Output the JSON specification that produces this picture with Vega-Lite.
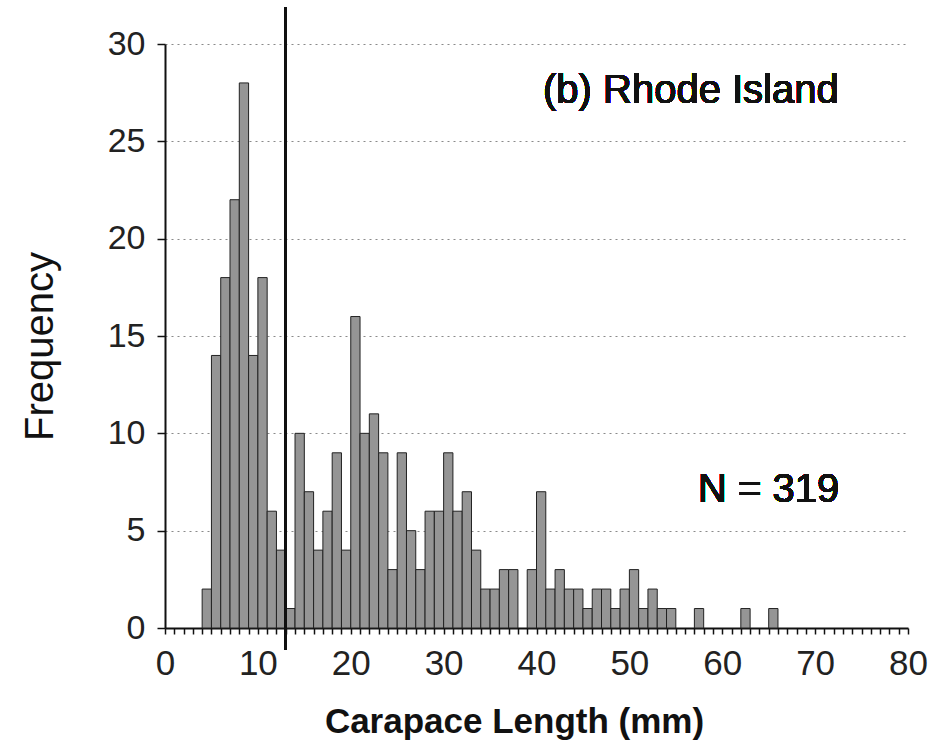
{
  "$schema": "https://vega.github.io/schema/vega-lite/v6.json",
  "width": 743,
  "height": 584,
  "autosize": {"type": "none"},
  "padding": {"left": 165, "top": 44, "right": 41, "bottom": 117},
  "background": "white",
  "config": {
    "view": {"stroke": null},
    "font": "Liberation Sans",
    "axis": {
      "domainColor": "#111",
      "domainWidth": 2,
      "tickColor": "#111",
      "tickWidth": 1.5,
      "labelColor": "#222",
      "titleColor": "#111",
      "labelFont": "Liberation Sans",
      "titleFont": "Liberation Sans",
      "labelFlush": false
    }
  },
  "data": {
    "values": [
      {"start": 4, "end": 5, "count": 2},
      {"start": 5, "end": 6, "count": 14},
      {"start": 6, "end": 7, "count": 18},
      {"start": 7, "end": 8, "count": 22},
      {"start": 8, "end": 9, "count": 28},
      {"start": 9, "end": 10, "count": 14},
      {"start": 10, "end": 11, "count": 18},
      {"start": 11, "end": 12, "count": 6},
      {"start": 12, "end": 13, "count": 4},
      {"start": 13, "end": 14, "count": 1},
      {"start": 14, "end": 15, "count": 10},
      {"start": 15, "end": 16, "count": 7},
      {"start": 16, "end": 17, "count": 4},
      {"start": 17, "end": 18, "count": 6},
      {"start": 18, "end": 19, "count": 9},
      {"start": 19, "end": 20, "count": 4},
      {"start": 20, "end": 21, "count": 16},
      {"start": 21, "end": 22, "count": 10},
      {"start": 22, "end": 23, "count": 11},
      {"start": 23, "end": 24, "count": 9},
      {"start": 24, "end": 25, "count": 3},
      {"start": 25, "end": 26, "count": 9},
      {"start": 26, "end": 27, "count": 5},
      {"start": 27, "end": 28, "count": 3},
      {"start": 28, "end": 29, "count": 6},
      {"start": 29, "end": 30, "count": 6},
      {"start": 30, "end": 31, "count": 9},
      {"start": 31, "end": 32, "count": 6},
      {"start": 32, "end": 33, "count": 7},
      {"start": 33, "end": 34, "count": 4},
      {"start": 34, "end": 35, "count": 2},
      {"start": 35, "end": 36, "count": 2},
      {"start": 36, "end": 37, "count": 3},
      {"start": 37, "end": 38, "count": 3},
      {"start": 39, "end": 40, "count": 3},
      {"start": 40, "end": 41, "count": 7},
      {"start": 41, "end": 42, "count": 2},
      {"start": 42, "end": 43, "count": 3},
      {"start": 43, "end": 44, "count": 2},
      {"start": 44, "end": 45, "count": 2},
      {"start": 45, "end": 46, "count": 1},
      {"start": 46, "end": 47, "count": 2},
      {"start": 47, "end": 48, "count": 2},
      {"start": 48, "end": 49, "count": 1},
      {"start": 49, "end": 50, "count": 2},
      {"start": 50, "end": 51, "count": 3},
      {"start": 51, "end": 52, "count": 1},
      {"start": 52, "end": 53, "count": 2},
      {"start": 53, "end": 54, "count": 1},
      {"start": 54, "end": 55, "count": 1},
      {"start": 57, "end": 58, "count": 1},
      {"start": 62, "end": 63, "count": 1},
      {"start": 65, "end": 66, "count": 1}
    ]
  },
  "layer": [
    {
      "mark": {"type": "bar", "fill": "#959595", "stroke": "#222", "strokeWidth": 1},
      "encoding": {
        "x": {
          "field": "start",
          "type": "quantitative",
          "scale": {"domain": [0, 80], "nice": false, "zero": false},
          "axis": {
            "values": [0,1,2,3,4,5,6,7,8,9,10,11,12,13,14,15,16,17,18,19,20,21,22,23,24,25,26,27,28,29,30,31,32,33,34,35,36,37,38,39,40,41,42,43,44,45,46,47,48,49,50,51,52,53,54,55,56,57,58,59,60,61,62,63,64,65,66,67,68,69,70,71,72,73,74,75,76,77,78,79,80],
            "labelExpr": "datum.value % 10 === 0 ? datum.label : ''",
            "labelOverlap": false,
            "labelFlush": false,
            "labelFontSize": 35,
            "labelBaseline": "middle",
            "labelPadding": 29,
            "tickSize": 6,
            "grid": false,
            "title": "Carapace Length (mm)",
            "titleFontSize": 35,
            "titleFontWeight": "bold",
            "titleBaseline": "alphabetic",
            "titleY": 104,
            "titleX": 349,
            "titleAlign": "center"
          }
        },
        "x2": {"field": "end"},
        "y": {
          "field": "count",
          "type": "quantitative",
          "scale": {"domain": [0, 30], "nice": false},
          "axis": {
            "values": [0, 5, 10, 15, 20, 25, 30],
            "labelFontSize": 34,
            "labelPadding": 12,
            "tickSize": 8,
            "grid": true,
            "gridColor": "#8a8a8a",
            "gridDash": [2, 4],
            "gridWidth": 1.2,
            "title": "Frequency",
            "titleFontSize": 40,
            "titleFontWeight": "normal",
            "titleBaseline": "alphabetic",
            "titleX": -113,
            "titleY": 302,
            "titleAlign": "center",
            "titleAngle": -90
          }
        },
        "y2": {"datum": 0}
      }
    },
    {
      "mark": {"type": "rule", "color": "#111", "strokeWidth": 2},
      "encoding": {
        "x": {"datum": 13, "type": "quantitative", "axis": {
            "values": [0,1,2,3,4,5,6,7,8,9,10,11,12,13,14,15,16,17,18,19,20,21,22,23,24,25,26,27,28,29,30,31,32,33,34,35,36,37,38,39,40,41,42,43,44,45,46,47,48,49,50,51,52,53,54,55,56,57,58,59,60,61,62,63,64,65,66,67,68,69,70,71,72,73,74,75,76,77,78,79,80],
            "labelExpr": "datum.value % 10 === 0 ? datum.label : ''",
            "labelOverlap": false,
            "labelFlush": false,
            "labelFontSize": 35,
            "labelBaseline": "middle",
            "labelPadding": 29,
            "tickSize": 6,
            "grid": false,
            "title": "Carapace Length (mm)",
            "titleFontSize": 35,
            "titleFontWeight": "bold",
            "titleBaseline": "alphabetic",
            "titleY": 104,
            "titleX": 349,
            "titleAlign": "center"
          }},
        "y": {"datum": 31.9, "type": "quantitative", "axis": {
            "values": [0, 5, 10, 15, 20, 25, 30],
            "labelFontSize": 34,
            "labelPadding": 12,
            "tickSize": 8,
            "grid": true,
            "gridColor": "#8a8a8a",
            "gridDash": [2, 4],
            "gridWidth": 1.2,
            "title": "Frequency",
            "titleFontSize": 40,
            "titleFontWeight": "normal",
            "titleBaseline": "alphabetic",
            "titleX": -113,
            "titleY": 302,
            "titleAlign": "center",
            "titleAngle": -90
          }},
        "y2": {"datum": -1.1}
      }
    },
    {
      "mark": {"type": "text", "text": "(b) Rhode Island", "align": "left", "baseline": "middle", "fontSize": 40, "font": "Liberation Sans", "color": "#111"},
      "encoding": {
        "x": {"datum": 40.7, "type": "quantitative", "axis": {
            "values": [0,1,2,3,4,5,6,7,8,9,10,11,12,13,14,15,16,17,18,19,20,21,22,23,24,25,26,27,28,29,30,31,32,33,34,35,36,37,38,39,40,41,42,43,44,45,46,47,48,49,50,51,52,53,54,55,56,57,58,59,60,61,62,63,64,65,66,67,68,69,70,71,72,73,74,75,76,77,78,79,80],
            "labelExpr": "datum.value % 10 === 0 ? datum.label : ''",
            "labelOverlap": false,
            "labelFlush": false,
            "labelFontSize": 35,
            "labelBaseline": "middle",
            "labelPadding": 29,
            "tickSize": 6,
            "grid": false,
            "title": "Carapace Length (mm)",
            "titleFontSize": 35,
            "titleFontWeight": "bold",
            "titleBaseline": "alphabetic",
            "titleY": 104,
            "titleX": 349,
            "titleAlign": "center"
          }},
        "y": {"datum": 27.6, "type": "quantitative", "axis": {
            "values": [0, 5, 10, 15, 20, 25, 30],
            "labelFontSize": 34,
            "labelPadding": 12,
            "tickSize": 8,
            "grid": true,
            "gridColor": "#8a8a8a",
            "gridDash": [2, 4],
            "gridWidth": 1.2,
            "title": "Frequency",
            "titleFontSize": 40,
            "titleFontWeight": "normal",
            "titleBaseline": "alphabetic",
            "titleX": -113,
            "titleY": 302,
            "titleAlign": "center",
            "titleAngle": -90
          }}
      }
    },
    {
      "mark": {"type": "text", "text": "N = 319", "align": "left", "baseline": "middle", "fontSize": 40, "font": "Liberation Sans", "color": "#111"},
      "encoding": {
        "x": {"datum": 57.4, "type": "quantitative", "axis": {
            "values": [0,1,2,3,4,5,6,7,8,9,10,11,12,13,14,15,16,17,18,19,20,21,22,23,24,25,26,27,28,29,30,31,32,33,34,35,36,37,38,39,40,41,42,43,44,45,46,47,48,49,50,51,52,53,54,55,56,57,58,59,60,61,62,63,64,65,66,67,68,69,70,71,72,73,74,75,76,77,78,79,80],
            "labelExpr": "datum.value % 10 === 0 ? datum.label : ''",
            "labelOverlap": false,
            "labelFlush": false,
            "labelFontSize": 35,
            "labelBaseline": "middle",
            "labelPadding": 29,
            "tickSize": 6,
            "grid": false,
            "title": "Carapace Length (mm)",
            "titleFontSize": 35,
            "titleFontWeight": "bold",
            "titleBaseline": "alphabetic",
            "titleY": 104,
            "titleX": 349,
            "titleAlign": "center"
          }},
        "y": {"datum": 7.1, "type": "quantitative", "axis": {
            "values": [0, 5, 10, 15, 20, 25, 30],
            "labelFontSize": 34,
            "labelPadding": 12,
            "tickSize": 8,
            "grid": true,
            "gridColor": "#8a8a8a",
            "gridDash": [2, 4],
            "gridWidth": 1.2,
            "title": "Frequency",
            "titleFontSize": 40,
            "titleFontWeight": "normal",
            "titleBaseline": "alphabetic",
            "titleX": -113,
            "titleY": 302,
            "titleAlign": "center",
            "titleAngle": -90
          }}
      }
    }
  ]
}
